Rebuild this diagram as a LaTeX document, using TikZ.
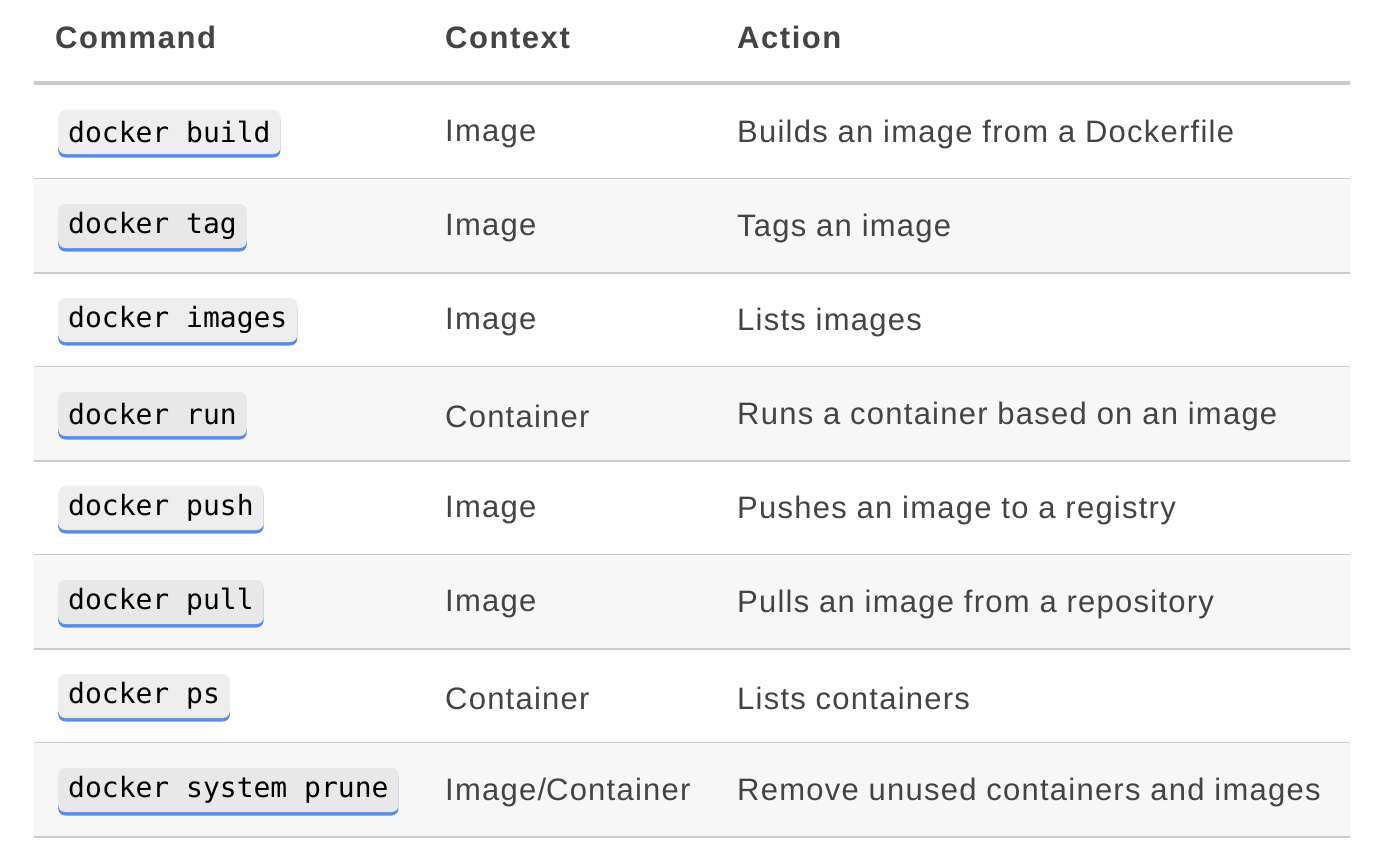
\documentclass[tikz,border=0pt]{standalone}
\usepackage{fontspec}
\setmainfont{Liberation Sans}[LetterSpace=4]
\newfontfamily\codefont{DejaVu Sans Mono}
\definecolor{txt}{HTML}{444444}
\definecolor{rulecol}{HTML}{CCCCCC}
\definecolor{rowbg}{HTML}{F7F7F7}
\definecolor{codebg}{HTML}{EEEEEE}
\definecolor{codebgb}{HTML}{E8E8E8}
\definecolor{blueline}{HTML}{5B8BE8}
\begin{document}
\begin{tikzpicture}[x=1pt,y=-1pt,
  hdr/.style={anchor=base west,font=\fontsize{31}{34}\selectfont\bfseries\addfontfeature{LetterSpace=5},text=txt,inner sep=0},
  cell/.style={anchor=west,font=\fontsize{31}{34}\selectfont,text=txt,inner sep=0},
  code/.style={anchor=west,font=\codefont\fontsize{28}{30}\selectfont,text=black,inner xsep=10pt,minimum height=44pt,inner ysep=0,rounded corners=7pt}]
\useasboundingbox (0,0) rectangle (1388,860);
\fill[white] (0,0) rectangle (1388,860);
\node[hdr] (h1) at (55,48) {Command};
\node[hdr] (h2) at (445,48) {Context};
\node[hdr] (h3) at (737,48) {Action};
\fill[rulecol] (34,81) rectangle (1350,85);
\foreach \c/\ctx/\act [count=\i] in {
  {docker build}/Image/Builds an image from a Dockerfile,
  {docker tag}/Image/Tags an image,
  {docker images}/Image/Lists images,
  {docker run}/Container/Runs a container based on an image,
  {docker push}/Image/Pushes an image to a registry,
  {docker pull}/Image/Pulls an image from a repository,
  {docker ps}/Container/Lists containers,
  {docker system prune}/Image\slash Container/Remove unused containers and images}{
  \pgfmathsetmacro\top{85+(\i-1)*94}
  \pgfmathsetmacro\mid{\top+47}
  \pgfmathsetmacro\bot{\top+94}
  \ifodd\i\else\fill[rowbg] (34,\top) rectangle (1350,\bot);\fi
  \node[code,fill=blueline] (cb\i) at (58,\mid+3.5) {\phantom{\c}};
  \ifodd\i
    \node[code,fill=codebg] (c\i) at (58,\mid) {\c};
  \else
    \node[code,fill=codebgb] (c\i) at (58,\mid) {\c};
  \fi
  \node[cell] (x\i) at (445,\mid+2) {\ctx};
  \node[cell] (a\i) at (737,\mid+2) {\act};
  \fill[rulecol] (34,\bot-1) rectangle (1350,\bot+1);
}
\end{tikzpicture}
\end{document}
